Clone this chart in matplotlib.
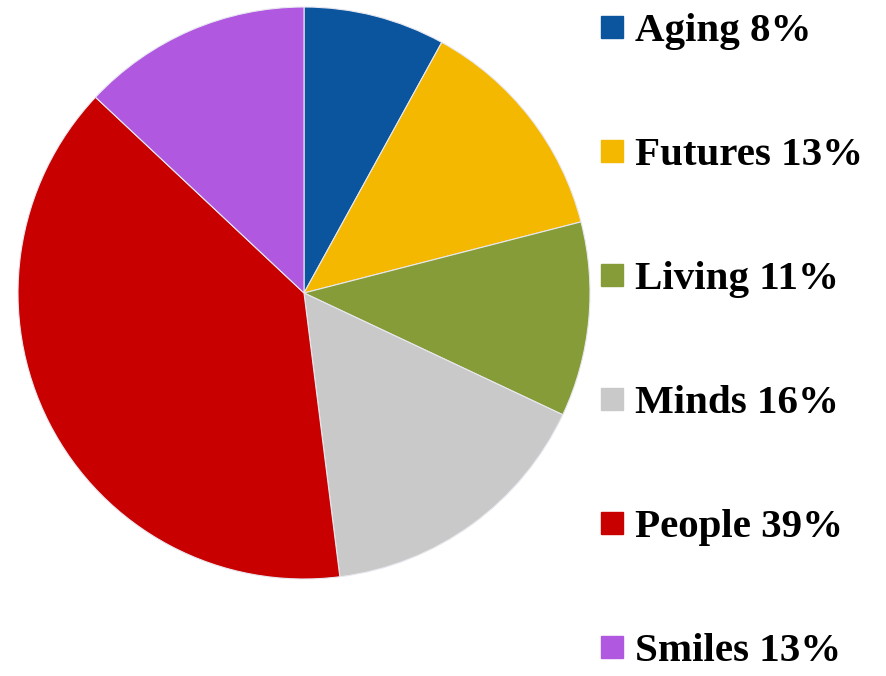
import matplotlib.pyplot as plt

labels = ["Aging", "Futures", "Living", "Minds", "People", "Smiles"]
values = [8, 13, 11, 16, 39, 13]
colors = ["#0b559f", "#f4b800", "#869c38", "#c9c9c9", "#c80000", "#b058e0"]

fig = plt.figure(figsize=(8.86, 6.76), dpi=100)
ax = fig.add_axes([0, 0, 1, 1])

# axes units are pixels here (y up), pie placed to match the picture
ax.pie(values, colors=colors, startangle=90, counterclock=False,
       center=(304, 383), radius=286,
       wedgeprops=dict(edgecolor="#e8e8f0", linewidth=0.8))
ax.set_xlim(0, 886)
ax.set_ylim(0, 676)
ax.set_aspect("equal")
ax.axis("off")

# legend drawn by hand, one row per slice
for i, (lab, val, col) in enumerate(zip(labels, values, colors)):
    base = 676 - (41 + i * 124)
    ax.plot(612.5, base + 14, marker="s", markersize=15.5, color=col,
            linestyle="none")
    ax.text(635, base, f"{lab} {val}%", ha="left", va="baseline",
            family="Liberation Serif", weight="bold", fontsize=29.5)

fig.savefig("out.png", dpi=100)
